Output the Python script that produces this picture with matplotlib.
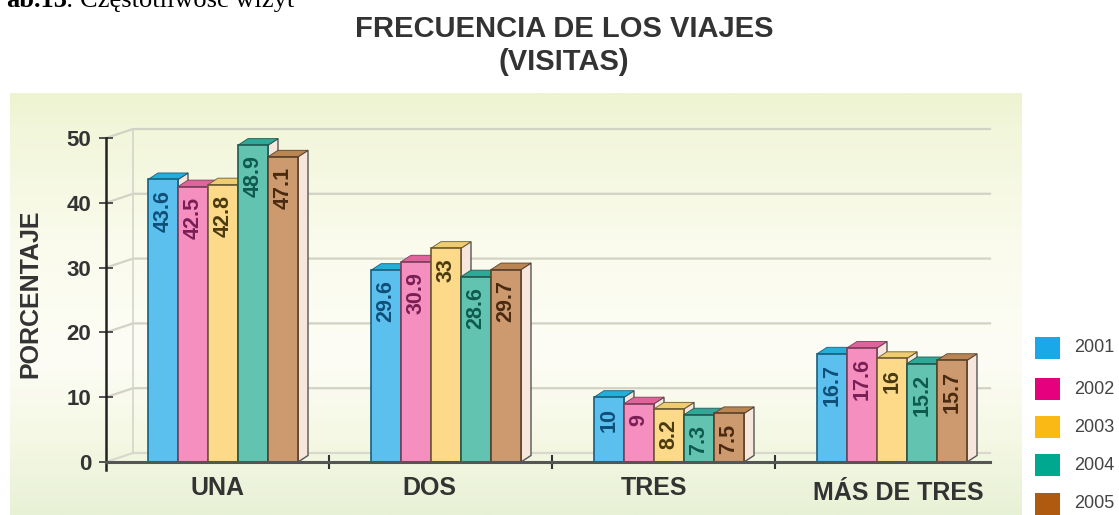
import numpy as np
import matplotlib
matplotlib.use("Agg")
import matplotlib.pyplot as plt
from matplotlib.patches import Polygon

categories = ["UNA", "DOS", "TRES", "MÁS DE TRES"]
years = ["2001", "2002", "2003", "2004", "2005"]
v2001 = [43.6, 29.6, 10, 16.7]
v2002 = [42.5, 30.9, 9, 17.6]
v2003 = [42.8, 33, 8.2, 16]
v2004 = [48.9, 28.6, 7.3, 15.2]
v2005 = [47.1, 29.7, 7.5, 15.7]
series = [v2001, v2002, v2003, v2004, v2005]
labels = [["43.6", "29.6", "10", "16.7"], ["42.5", "30.9", "9", "17.6"],
          ["42.8", "33", "8.2", "16"], ["48.9", "28.6", "7.3", "15.2"],
          ["47.1", "29.7", "7.5", "15.7"]]
yticks = [0, 10, 20, 30, 40, 50]

front = ["#5cc0ee", "#f48fc0", "#fdd98a", "#62c4b0", "#cc9a6e"]
top = ["#25aed8", "#e0649c", "#f0cc70", "#30a898", "#b98552"]
edge = ["#17607f", "#7d3d58", "#6b5a30", "#1e5a50", "#5a4028"]
text_c = ["#0f4f78", "#7a1f55", "#4a3a10", "#0f5a50", "#4a2a10"]
legend_c = ["#1aa8e8", "#e6007e", "#fbb916", "#00a890", "#b05a10"]
side = "#f6e6dc"
DARK = "#333333"
FONT = "Liberation Sans"

W, H = 1119, 515
fig = plt.figure(figsize=(W / 100, H / 100), dpi=100, facecolor="white")

def box(l, t, r, b):
    return [l / W, 1 - b / H, (r - l) / W, (b - t) / H]

# background panel
bg = fig.add_axes(box(10, 93, 1022, 515), zorder=0)
stops_y = np.array([0, 0.08, 0.35, 0.62, 0.82, 1])
stops = np.array([[238, 243, 208], [242, 246, 218], [250, 251, 236],
                  [253, 253, 246], [245, 248, 228], [232, 241, 214]]) / 255
yy = np.linspace(0, 1, 256)
grad = np.stack([np.interp(yy, stops_y, stops[:, i]) for i in range(3)], axis=1)[:, None, :]
bg.imshow(grad, aspect="auto", extent=(0, 1, 1, 0))
bg.axis("off")

# main axes
ax = fig.add_axes(box(106, 138, 998, 462), zorder=1)
ax.patch.set_alpha(0)
ax.set_xlim(-0.5, 3.5)
ax.set_ylim(0, 50)
px_x = 4 / 892
px_y = 50 / 324

# walls
wx, wy = 27 * px_x, 9 * px_y
xl, xr = -0.5, -0.5 + 884 * px_x
for t in yticks:
    c = "#d2d3c4" if t else "#d8d9cc"
    ax.plot([xl, xl + wx, xr], [t, t + wy, t + wy], color=c, lw=1.6, zorder=1, clip_on=False)
ax.plot([xl + wx, xl + wx], [wy, 50 + wy], color="#d4d5cc", lw=1.2, zorder=1, clip_on=False)

# bars
bw = 30 * px_x
dx, dy = 10 * px_x, 6.5 * px_y
shift = 5.5 * px_x
for i, vals in enumerate(series):
    pos = np.arange(4) + shift + (i - 2) * bw
    for x, v in zip(pos, vals):
        xa, xb = x - bw / 2, x + bw / 2
        ax.add_patch(Polygon([(xb, 0), (xb + dx, dy), (xb + dx, v + dy), (xb, v)],
                             fc=side, ec="#555555", lw=1, zorder=2 + i, clip_on=False))
        ax.add_patch(Polygon([(xa, v), (xa + dx, v + dy), (xb + dx, v + dy), (xb, v)],
                             fc=top[i], ec=edge[i], lw=0.6, zorder=2 + i, clip_on=False))
    ax.bar(pos, vals, width=bw, color=front[i], edgecolor=edge[i], linewidth=1.2, zorder=2 + i)
    for x, v, s in zip(pos, vals, labels[i]):
        ax.text(x, v - 1.6, s, rotation=90, ha="center", va="top",
                fontsize=15.5, color=text_c[i], family=["Liberation Sans Narrow", FONT],
                fontweight="bold", zorder=2 + i)

# axes lines and ticks
for sp in ["top", "right"]:
    ax.spines[sp].set_visible(False)
ax.spines["left"].set_linewidth(1.8)
ax.spines["left"].set_color("#222222")
ax.spines["bottom"].set_visible(False)
ax.plot([-0.5, xr], [0, 0], color="#555555", lw=2.2, zorder=10, clip_on=False)
ax.set_yticks(yticks)
ax.set_yticklabels(yticks, fontsize=16, fontweight="bold", color=DARK, family=FONT)
ax.tick_params(axis="y", direction="inout", length=9.4, width=1.3, color="#444444", pad=6)
ax.set_xticks([0.5, 1.5, 2.5])
ax.set_xticklabels([])
ax.tick_params(axis="x", direction="inout", length=10, width=1.5, color="#333333")
for t in ax.xaxis.get_major_ticks():
    t.tick1line.set_zorder(11)
ax.plot([-0.5, -0.5], [0, -1.2], color="#222222", lw=1.8, clip_on=False)

# category labels
cat_x = [218, 429, 654, 898]
cat_y = [488, 488, 488, 493]
for name, x, y in zip(categories, cat_x, cat_y):
    fig.text(x / W, 1 - y / H, name, ha="center", va="center", fontsize=18,
             fontweight="bold", color=DARK, family=FONT, zorder=5)

fig.text(30 / W, 1 - 294 / H, "PORCENTAJE", rotation=90, ha="center", va="center",
         fontsize=18, fontweight="bold", color=DARK, family=FONT, zorder=5)
fig.text(564 / W, 1 - 29 / H, "FRECUENCIA DE LOS VIAJES", ha="center", va="center",
         fontsize=21, fontweight="bold", color=DARK, family=FONT, zorder=5)
fig.text(564 / W, 1 - 62 / H, "(VISITAS)", ha="center", va="center",
         fontsize=21, fontweight="bold", color=DARK, family=FONT, zorder=5)

# caption, cut off by the top edge as in the reference
fig.text(6 / W, 1 - 7 / H, "ab.13", ha="left", va="baseline", fontsize=19,
         fontweight="bold", family="Liberation Serif", color="black", zorder=5)
fig.text(66 / W, 1 - 7 / H, ": Częstotliwość wizyt", ha="left", va="baseline", fontsize=19,
         family="Liberation Serif", color="black", zorder=5)

# legend
leg_t = [337, 378, 416, 454, 493]
for y_, c, lab in zip(leg_t, legend_c, years):
    lax = fig.add_axes(box(1035, y_, 1060, y_ + 22), zorder=2)
    lax.set_facecolor(c)
    lax.set_xticks([]); lax.set_yticks([])
    for s in lax.spines.values():
        s.set_visible(False)
    fig.text(1074 / W, 1 - (y_ + 11) / H, lab, ha="left", va="center", fontsize=13,
             color="#444444", family=FONT, zorder=5)

fig.savefig("out.png", dpi=100)
